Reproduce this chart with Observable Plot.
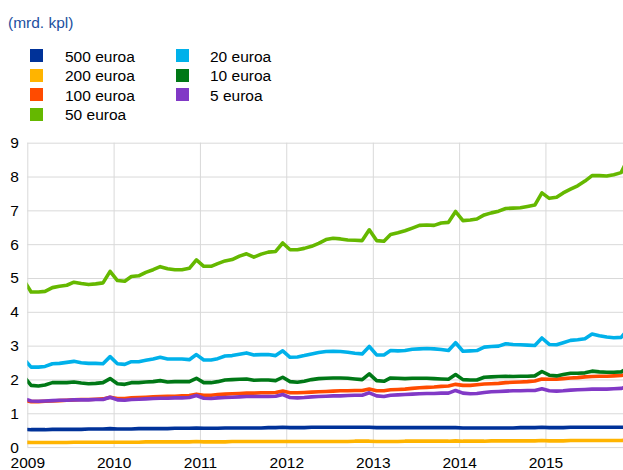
<!DOCTYPE html>
<html><head><meta charset="utf-8">
<script src="https://cdn.jsdelivr.net/npm/d3@7"></script>
<script src="https://cdn.jsdelivr.net/npm/@observablehq/plot@0.6"></script>
<style>
html,body{margin:0;padding:0;background:#fff;}
#wrap{position:relative;width:623px;height:470px;overflow:hidden;font-family:"Liberation Sans",Arial,sans-serif;}
.t{position:absolute;font-size:15.5px;line-height:1;white-space:nowrap;color:#000;}
.sw{position:absolute;width:13px;height:13px;}
#chart{position:absolute;left:0;top:125px;}
</style></head><body>
<div id="wrap"><div class="t" id="title" style="left:8px;top:15px;color:#1c4fa0">(mrd. kpl)</div><div id="chart"></div></div>
<script>
// Series names and colours
const names = ["500 euroa", "200 euroa", "100 euroa", "50 euroa", "20 euroa", "10 euroa", "5 euroa"];
const colors = ["#003299", "#ffb400", "#ff4b00", "#65b800", "#00b1ea", "#007816", "#8139c6"];
const yearLabels = [2009, 2010, 2011, 2012, 2013, 2014, 2015];
const yTicks = [0, 1, 2, 3, 4, 5, 6, 7, 8, 9];

// Monthly values, Dec 2008 then Jan 2009 ... Dec 2015 (billions of banknotes)
const v500 = [0.54,
  0.53,0.53,0.53,0.54,0.54,0.54,0.54,0.54,0.55,0.55,0.55,0.56,
  0.55,0.55,0.55,0.56,0.56,0.56,0.56,0.56,0.57,0.57,0.57,0.58,
  0.57,0.57,0.57,0.58,0.58,0.58,0.58,0.58,0.58,0.59,0.59,0.60,
  0.59,0.59,0.59,0.60,0.60,0.60,0.60,0.60,0.60,0.60,0.60,0.60,
  0.59,0.59,0.59,0.59,0.59,0.59,0.59,0.59,0.59,0.59,0.59,0.59,
  0.58,0.58,0.58,0.58,0.58,0.58,0.58,0.58,0.59,0.59,0.59,0.60,
  0.59,0.59,0.59,0.60,0.60,0.60,0.60,0.60,0.60,0.60,0.60,0.61];
const v200 = [0.16,
  0.15,0.15,0.15,0.15,0.15,0.15,0.16,0.16,0.16,0.16,0.16,0.16,
  0.16,0.16,0.16,0.16,0.17,0.17,0.17,0.17,0.17,0.17,0.17,0.18,
  0.17,0.17,0.17,0.17,0.18,0.18,0.18,0.18,0.18,0.18,0.18,0.18,
  0.18,0.18,0.18,0.18,0.18,0.18,0.18,0.18,0.18,0.19,0.19,0.19,
  0.18,0.18,0.18,0.18,0.19,0.19,0.19,0.19,0.19,0.19,0.19,0.20,
  0.19,0.19,0.19,0.19,0.20,0.20,0.20,0.20,0.20,0.20,0.20,0.21,
  0.20,0.20,0.20,0.21,0.21,0.21,0.21,0.21,0.21,0.21,0.21,0.22];
const v100 = [1.39,
  1.36,1.36,1.37,1.38,1.39,1.40,1.41,1.42,1.42,1.43,1.44,1.49,
  1.45,1.45,1.47,1.48,1.49,1.50,1.51,1.52,1.52,1.53,1.54,1.58,
  1.55,1.55,1.57,1.58,1.59,1.60,1.61,1.61,1.62,1.62,1.63,1.67,
  1.62,1.62,1.63,1.64,1.65,1.66,1.67,1.68,1.68,1.69,1.69,1.73,
  1.68,1.68,1.71,1.72,1.73,1.75,1.77,1.78,1.79,1.81,1.82,1.87,
  1.84,1.84,1.86,1.88,1.89,1.90,1.92,1.93,1.94,1.95,1.97,2.03,
  2.02,2.02,2.04,2.06,2.07,2.09,2.10,2.11,2.11,2.12,2.13,2.18];
const v50 = [4.95,
  4.60,4.60,4.62,4.73,4.77,4.80,4.89,4.85,4.82,4.84,4.87,5.21,
  4.94,4.92,5.06,5.08,5.18,5.26,5.35,5.29,5.26,5.26,5.30,5.55,
  5.36,5.36,5.44,5.52,5.56,5.66,5.73,5.63,5.72,5.78,5.80,6.05,
  5.85,5.85,5.89,5.95,6.04,6.15,6.19,6.17,6.14,6.13,6.12,6.44,
  6.12,6.10,6.30,6.35,6.41,6.49,6.57,6.58,6.57,6.64,6.66,6.98,
  6.71,6.73,6.76,6.88,6.94,6.99,7.07,7.08,7.09,7.13,7.17,7.53,
  7.37,7.40,7.53,7.64,7.74,7.88,8.04,8.04,8.03,8.07,8.13,8.55];
const v20 = [2.62,
  2.38,2.38,2.40,2.48,2.49,2.52,2.55,2.51,2.49,2.49,2.48,2.69,
  2.48,2.46,2.54,2.54,2.58,2.62,2.67,2.62,2.62,2.62,2.60,2.75,
  2.59,2.59,2.63,2.71,2.72,2.76,2.80,2.74,2.75,2.75,2.72,2.86,
  2.67,2.68,2.72,2.77,2.81,2.84,2.85,2.84,2.82,2.79,2.77,2.99,
  2.74,2.74,2.87,2.86,2.87,2.91,2.92,2.93,2.92,2.90,2.87,3.10,
  2.85,2.86,2.87,2.97,2.99,3.00,3.07,3.05,3.04,3.03,3.02,3.24,
  3.05,3.04,3.10,3.17,3.19,3.22,3.36,3.31,3.27,3.25,3.26,3.50];
const v10 = [2.10,
  1.84,1.82,1.85,1.92,1.92,1.92,1.94,1.91,1.89,1.90,1.92,2.04,
  1.89,1.87,1.92,1.92,1.94,1.95,1.98,1.94,1.95,1.95,1.95,2.05,
  1.92,1.92,1.95,2.00,2.01,2.02,2.03,1.99,2.00,2.00,1.98,2.08,
  1.95,1.93,1.96,2.01,2.04,2.05,2.06,2.06,2.05,2.03,2.01,2.18,
  1.98,1.96,2.06,2.05,2.04,2.05,2.05,2.05,2.04,2.03,2.02,2.16,
  2.01,2.00,2.00,2.08,2.09,2.10,2.11,2.10,2.11,2.11,2.12,2.25,
  2.14,2.12,2.16,2.20,2.20,2.21,2.26,2.24,2.23,2.23,2.24,2.35];
const v5 = [1.45,
  1.38,1.37,1.38,1.39,1.40,1.40,1.41,1.41,1.41,1.42,1.42,1.49,
  1.41,1.40,1.42,1.43,1.44,1.45,1.46,1.46,1.47,1.47,1.48,1.54,
  1.46,1.45,1.47,1.48,1.49,1.50,1.51,1.51,1.51,1.51,1.52,1.57,
  1.48,1.47,1.48,1.50,1.51,1.52,1.53,1.53,1.54,1.55,1.55,1.62,
  1.53,1.51,1.55,1.56,1.57,1.58,1.59,1.60,1.60,1.61,1.61,1.69,
  1.61,1.59,1.60,1.63,1.65,1.66,1.67,1.68,1.68,1.69,1.69,1.74,
  1.68,1.67,1.68,1.70,1.71,1.72,1.73,1.73,1.73,1.74,1.75,1.80];

const values = [v500, v200, v100, v50, v20, v10, v5];
const dates = v50.map((_, i) => new Date(Date.UTC(2008, 11 + i, 15)));
const rows = [];
names.forEach((name, k) => values[k].forEach((v, i) => rows.push({date: dates[i], value: v, series: name})));

// Legend (HTML)
const wrap = document.getElementById("wrap");
names.forEach((name, k) => {
  const col = k < 4 ? 0 : 1;
  const row = k < 4 ? k : k - 4;
  const top = 49.3 + row * 19.4;
  const sw = document.createElement("div");
  sw.className = "sw";
  sw.style.left = (col ? 175.5 : 30.3) + "px";
  sw.style.top = top + "px";
  sw.style.background = colors[k];
  wrap.appendChild(sw);
  const t = document.createElement("div");
  t.className = "t";
  t.style.left = (col ? 210 : 65) + "px";
  t.style.top = (top - 0.5) + "px";
  t.textContent = name;
  wrap.appendChild(t);
});

const yearTicks = yearLabels.map(y => new Date(Date.UTC(y, 0, 1)));
const plot = Plot.plot({
  width: 623, height: 345,
  marginLeft: 27.3, marginRight: 0, marginTop: 17.7, marginBottom: 22.9,
  style: {fontFamily: "'Liberation Sans', Arial, sans-serif", fontSize: "15.5px", color: "#000", background: "transparent", overflow: "visible"},
  x: {type: "utc", domain: [new Date(Date.UTC(2009, 0, 1)), new Date(Date.UTC(2015, 10, 25))], ticks: yearTicks, tickFormat: d3.utcFormat("%Y"), tickSize: 0, tickPadding: 9.5, label: null},
  y: {domain: [0, 9], ticks: yTicks, tickSize: 0, tickPadding: 9, label: null},
  color: {domain: names, range: colors},
  marks: [
    Plot.gridY(yTicks, {stroke: "#d9d9d9", strokeOpacity: 1}),
    Plot.gridX(yearTicks, {stroke: "#d9d9d9", strokeOpacity: 1}),
    Plot.line(rows, {x: "date", y: "value", z: "series", stroke: "series", strokeWidth: 3.6, strokeLinejoin: "round", clip: true})
  ]
});
document.getElementById("chart").appendChild(plot);
</script>
</body></html>
